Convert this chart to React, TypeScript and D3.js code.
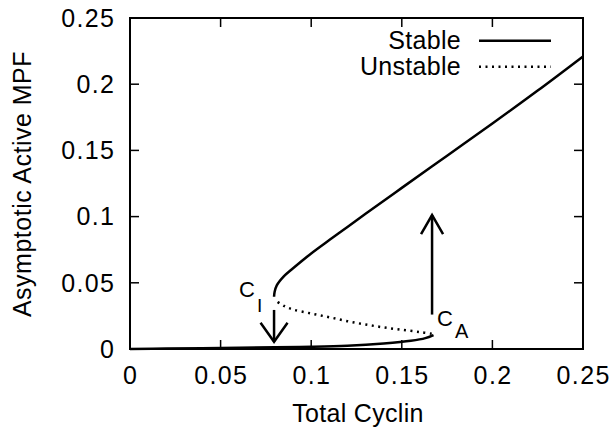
import React from "react";
import * as d3 from "d3";

const xTicks = [0, 0.05, 0.1, 0.15, 0.2, 0.25];
const yTicks = [0, 0.05, 0.1, 0.15, 0.2, 0.25];
const tickLabels = ["0", "0.05", "0.1", "0.15", "0.2", "0.25"];

// lower stable branch
const lowerX = [0, 0.02, 0.05, 0.08, 0.1, 0.12, 0.14, 0.155, 0.163, 0.1675];
const lowerY = [0, 0.0003, 0.0008, 0.0013, 0.0017, 0.0025, 0.0042, 0.0062, 0.0082, 0.0105];
// unstable branch
const unstableX = [0.1665, 0.16, 0.15, 0.14, 0.13, 0.12, 0.11, 0.1, 0.09, 0.085, 0.0805];
const unstableY = [0.0115, 0.0128, 0.0145, 0.0163, 0.0185, 0.021, 0.024, 0.0268, 0.0298, 0.0325, 0.0365];
// upper stable branch
const upperX = [0.0795, 0.0798, 0.081, 0.085, 0.09, 0.1, 0.11, 0.12, 0.13, 0.15, 0.175, 0.2, 0.225, 0.25];
const upperY = [0.0395, 0.043, 0.048, 0.055, 0.061, 0.0722, 0.0823, 0.0922, 0.1021, 0.1217, 0.146, 0.1703, 0.1952, 0.221];

// arrows: x, from y, to y
const arrowX = [0.0795, 0.1667];
const arrowFrom = [0.0295, 0.026];
const arrowTo = [0.0055, 0.1012];

const legendLabels = ["Stable", "Unstable"];

const W = 610, H = 427;
const M = { left: 130, right: 583, top: 18, bottom: 349 };
const FONT = "'Liberation Sans', Arial, Helvetica, sans-serif";

export default function App() {
  const x = d3.scaleLinear().domain([0, 0.25]).range([M.left, M.right]);
  const y = d3.scaleLinear().domain([0, 0.25]).range([M.bottom, M.top]);
  const line = d3
    .line<[number, number]>()
    .x((d) => x(d[0]))
    .y((d) => y(d[1]))
    .curve(d3.curveCatmullRom.alpha(0.5));

  const lower = lowerX.map((v, i) => [v, lowerY[i]] as [number, number]);
  const unstable = unstableX.map((v, i) => [v, unstableY[i]] as [number, number]);
  const upper = upperX.map((v, i) => [v, upperY[i]] as [number, number]);

  const tickLen = 9;
  const headLens = [19, 19];
  const headHalf = [13.5, 11];

  return (
    <svg
      width={W}
      height={H}
      style={{ position: "absolute", left: 0, top: 0, background: "#fff" }}
      fontFamily={FONT}
    >
      {/* ticks */}
      {xTicks.map((t, i) => (
        <g key={"xt" + i}>
          <line x1={x(t)} x2={x(t)} y1={M.bottom} y2={M.bottom - tickLen} stroke="#000" strokeWidth={1.5} />
          <line x1={x(t)} x2={x(t)} y1={M.top} y2={M.top + tickLen} stroke="#000" strokeWidth={1.5} />
          <text x={x(t) + 0.7} y={M.bottom + 35} fontSize={25} letterSpacing={1.4} textAnchor="middle">
            {tickLabels[i]}
          </text>
        </g>
      ))}
      {yTicks.map((t, i) => (
        <g key={"yt" + i}>
          <line x1={M.left} x2={M.left + tickLen} y1={y(t)} y2={y(t)} stroke="#000" strokeWidth={1.5} />
          <line x1={M.right} x2={M.right - tickLen} y1={y(t)} y2={y(t)} stroke="#000" strokeWidth={1.5} />
          <text x={115.4} y={y(t) + 8.8} fontSize={25} letterSpacing={1.4} textAnchor="end">
            {tickLabels[i]}
          </text>
        </g>
      ))}
      <rect
        x={M.left}
        y={M.top}
        width={M.right - M.left}
        height={M.bottom - M.top}
        fill="none"
        stroke="#000"
        strokeWidth={2}
      />

      {/* curves */}
      <path d={line(lower) || ""} fill="none" stroke="#000" strokeWidth={2.5} />
      <path
        d={line(unstable) || ""}
        fill="none"
        stroke="#000"
        strokeWidth={2.5}
        strokeDasharray="2 4.5"
      />
      <path d={line(upper) || ""} fill="none" stroke="#000" strokeWidth={2.5} />

      {/* arrows */}
      {arrowX.map((ax, i) => {
        const px = x(ax);
        const y0 = y(arrowFrom[i]);
        const y1 = y(arrowTo[i]);
        const dir = y1 > y0 ? 1 : -1;
        return (
          <g key={"ar" + i} stroke="#000" strokeWidth={2.5} fill="none">
            <line x1={px} x2={px} y1={y0} y2={y1} />
            <polyline
              points={`${px - headHalf[i]},${y1 - dir * headLens[i]} ${px},${y1} ${px + headHalf[i]},${y1 - dir * headLens[i]}`}
            />
          </g>
        );
      })}

      {/* point labels */}
      <text x={239} y={297} fontSize={22}>
        C
      </text>
      <text x={257} y={312} fontSize={19}>
        I
      </text>
      <text x={437} y={325.5} fontSize={22}>
        C
      </text>
      <text x={455} y={337.5} fontSize={20}>
        A
      </text>

      {/* legend */}
      <text x={461} y={48.5} fontSize={25} letterSpacing={0.3} textAnchor="end">
        {legendLabels[0]}
      </text>
      <line x1={479} x2={551} y1={40.7} y2={40.7} stroke="#000" strokeWidth={2.5} />
      <text x={461} y={75} fontSize={25} letterSpacing={0.3} textAnchor="end">
        {legendLabels[1]}
      </text>
      <line x1={479} x2={551} y1={66.7} y2={66.7} stroke="#000" strokeWidth={2.5} strokeDasharray="2 4.5" />

      {/* axis titles */}
      <text x={358} y={422} fontSize={25} letterSpacing={0.3} textAnchor="middle">
        Total Cyclin
      </text>
      <text
        transform={`translate(31,${184}) rotate(-90)`}
        fontSize={25}
        letterSpacing={0.5}
        textAnchor="middle"
      >
        Asymptotic Active MPF
      </text>
    </svg>
  );
}
